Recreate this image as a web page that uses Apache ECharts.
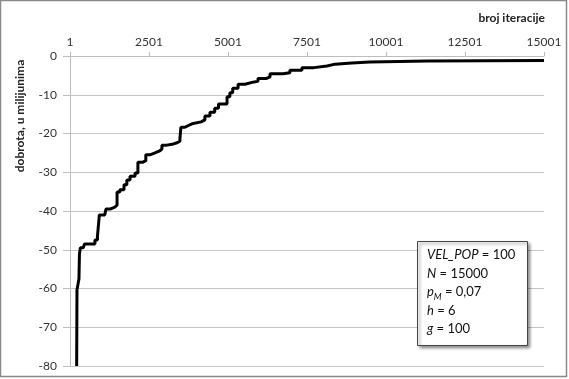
<!DOCTYPE html>
<html>
<head>
<meta charset="utf-8">
<script src="https://cdn.jsdelivr.net/npm/echarts@6/dist/echarts.min.js"></script>
<style>
html,body{margin:0;padding:0;background:#fff;}
#c{width:569px;height:379px;}
</style>
</head>
<body>
<div id="c"></div>
<script>
// iteration at which a new best value appears, and that value (in millionths)
const iterations = [212, 222, 285, 300, 330, 420, 460, 790, 870, 930, 1100, 1140, 1270, 1420, 1490,
  1580, 1710, 1800, 1900, 2060, 2150, 2310, 2400, 2530, 2690, 2840, 2910, 3070, 3230, 3390, 3480,
  3510, 3640, 3730, 3860, 4150, 4270, 4430, 4580, 4700, 4970, 5060, 5150, 5320, 5540, 5760, 5950,
  6220, 6330, 6740, 6960, 7340, 7720, 8130, 8390, 8920, 9490, 11330, 15001];
const values = [-80, -60.4, -57.5, -51, -49.5, -49, -48.5, -47.5, -46.5, -41, -40.5, -39.5, -39, -38.5, -35.1,
  -34.5, -33.2, -32, -31, -30.2, -27.4, -27, -25.5, -25, -24.5, -24, -23, -22.8, -22.4, -22, -21.3,
  -18.4, -18, -17.5, -17, -16.5, -15.5, -14.5, -13.5, -12.4, -10.5, -9.5, -8.3, -7.3, -6.8, -6.5, -5.8,
  -5.4, -4.6, -4.3, -3.7, -3.0, -2.6, -2.1, -1.8, -1.55, -1.3, -1.15, -1.15];
const xTickLabels = ['1', '2501', '5001', '7501', '10001', '12501', '15001'];
const yTicks = [0, -10, -20, -30, -40, -50, -60, -70, -80];
const xName = 'broj iteracije';
const yName = 'dobrota, u milijunima';
const paramLines = ['{i|VEL_POP} = 100', '{i|N} = 15000', '{i|p}{sub|M} = 0,07', '{i|h} = 6', '{i|g} = 100'];

const FONT = 'Lato, "Open Sans", sans-serif';
const chart = echarts.init(document.getElementById('c'), null, {renderer: 'canvas'});
chart.setOption({
  animation: false,
  backgroundColor: '#fff',
  grid: {left: 70, right: 25, top: 56, bottom: 13},
  xAxis: {
    type: 'value', position: 'top', min: 0, max: 15000, interval: 2500,
    axisLine: {show: true, lineStyle: {color: '#bdbdbd', width: 1}},
    axisTick: {show: true, inside: false, length: 4, lineStyle: {color: '#bdbdbd'}},
    axisLabel: {color: '#333', fontFamily: FONT, fontSize: 12, margin: 8,
      formatter: v => xTickLabels[Math.round(v / 2500)]},
    splitLine: {show: false}
  },
  yAxis: {
    type: 'value', min: -80, max: 0, interval: 10,
    axisLine: {show: true, onZero: false, lineStyle: {color: '#bdbdbd', width: 1}},
    axisTick: {show: true, length: 7, lineStyle: {color: '#bdbdbd'}},
    axisLabel: {color: '#333', fontFamily: FONT, fontSize: 12, margin: 13,
      formatter: v => String(yTicks[yTicks.indexOf(v)])},
    splitLine: {show: true, lineStyle: {color: '#c4c4c4', width: 1}}
  },
  series: [{
    type: 'line', step: 'end', symbol: 'none',
    data: iterations.map((it, i) => [it - 1, values[i]]),
    lineStyle: {color: '#000', width: 3}
  }],
  graphic: [
    {type: 'rect', silent: true, z: 0, shape: {x: 0.5, y: 0.5, width: 566, height: 376},
      style: {fill: 'none', stroke: '#8a8a8a', lineWidth: 1.5}},
    {type: 'text', z: 10, style: {text: xName, x: 545, y: 18, align: 'right', verticalAlign: 'middle',
      font: 'bold 12px ' + FONT, fill: '#222'}},
    {type: 'text', z: 10, x: 20, y: 116, rotation: Math.PI / 2,
      style: {text: yName, x: 0, y: 0, align: 'center', verticalAlign: 'middle',
      font: 'bold 12px ' + FONT, fill: '#222'}},
    {type: 'rect', z: 20, shape: {x: 417.5, y: 241.5, width: 110, height: 104},
      style: {fill: '#fff', stroke: '#444', lineWidth: 1,
        shadowBlur: 3, shadowOffsetX: 2, shadowOffsetY: 2, shadowColor: 'rgba(0,0,0,0.45)'}},
    {type: 'text', z: 21, style: {
      text: paramLines.join('\n'), x: 427, y: 246, align: 'left', verticalAlign: 'top',
      fontFamily: FONT, fontSize: 13, lineHeight: 18.5, fill: '#111',
      rich: {
        i: {fontFamily: FONT, fontSize: 13, fontStyle: 'italic', fill: '#111'},
        sub: {fontFamily: FONT, fontSize: 9, fontStyle: 'italic', fill: '#111', verticalAlign: 'bottom', padding: [6, 0, 0, 0]}
      }
    }}
  ]
});
</script>
</body>
</html>
